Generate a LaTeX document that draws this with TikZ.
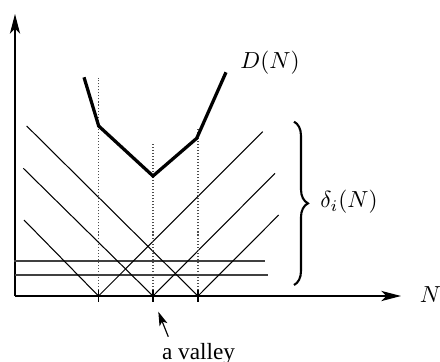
\documentclass[tikz,border=0pt]{standalone}
\usepackage{fontspec}
\newfontfamily\valleyfont{Liberation Serif}
\usetikzlibrary{arrows.meta,decorations.pathreplacing}

\begin{document}
\begin{tikzpicture}[
  x=0.43pt, y=0.43pt,
  axis/.style={-{Stealth[length=8.5pt, width=4.4pt, inset=2.2pt]}, line width=0.5pt},
  pointer/.style={-{Stealth[length=6pt, width=3.6pt, inset=1.5pt]}, line width=0.5pt},
  ray/.style={line width=0.45pt},
  level/.style={line width=0.6pt, black!75},
  guide/.style={line width=0.5pt, dash pattern=on 0.45pt off 0.85pt, black!70},
  cost/.style={line width=1.4pt, line join=miter},
  tickmark/.style={line width=0.6pt},
  bracket/.style={decorate, decoration={brace, amplitude=6pt}, line width=0.9pt},
  mathlbl/.style={inner sep=0pt}
]
\useasboundingbox (0,0) rectangle (440,361);

% axes
\coordinate (origin) at (15,65);
\coordinate (ytop) at (15,347);
\coordinate (xend) at (401,65);
\draw[axis] (origin) -- (ytop);
\draw[axis] (origin) -- (xend);
\node[mathlbl] (nlabel) at (430.5,66) {$N$};

% vertices on the N axis
\coordinate (v1) at (98.5,65);
\coordinate (v2) at (153,65);
\coordinate (v3) at (198,65);

% flat levels
\coordinate (h1l) at (14,100);
\coordinate (h1r) at (265,100);
\coordinate (h2l) at (15,86);
\coordinate (h2r) at (268,86);
\draw[level] (h1l) -- (h1r);
\draw[level] (h2l) -- (h2r);

% descending and ascending rays
\coordinate (l1) at (26.7,235);
\coordinate (l2) at (23.3,192.7);
\coordinate (l3) at (24,141);
\coordinate (r1) at (262.7,229.3);
\coordinate (r2) at (275,187.7);
\coordinate (r3) at (278.7,146);
\draw[ray] (l1) -- (v3);
\draw[ray] (l2) -- (v2);
\draw[ray] (l3) -- (v1);
\draw[ray] (v1) -- (r1);
\draw[ray] (v2) -- (r2);
\draw[ray] (v3) -- (r3);

% dotted guides
\coordinate (g1) at (98.5,283);
\coordinate (g2) at (153,218);
\coordinate (g3) at (198,233);
\draw[guide] (v1) -- (g1);
\draw[guide] (v2) -- (g2);
\draw[guide] (v3) -- (g3);

% ticks
\foreach \v in {v1,v2,v3}
  \draw[tickmark] ([yshift=4\pgflinewidth]\v) -- ++(0,-12);

% envelope D(N)
\coordinate (d0) at (84,283.7);
\coordinate (d1) at (98.7,235);
\coordinate (d2) at (153,185);
\coordinate (d3) at (196.7,222.7);
\coordinate (d4) at (226,288.7);
\draw[cost] (d0) -- (d1) -- (d2) -- (d3) -- (d4);
\node[mathlbl] (dlabel) at (270,298) {$D(N)$};

% brace for the deltas
\coordinate (btop) at (294,239.3);
\coordinate (bbot) at (294,76);
\draw[bracket] (btop) -- (bbot);
\node[mathlbl] (deltalabel) at (349,159) {$\delta_i(N)$};

% the valley
\node[inner sep=0pt, anchor=base] (valley) at (198.5,2) {\valleyfont a valley};
\coordinate (vtail) at (168.3,24.3);
\coordinate (vtip) at (158.3,49.3);
\draw[pointer] (vtail) -- (vtip);
\end{tikzpicture}
\end{document}
